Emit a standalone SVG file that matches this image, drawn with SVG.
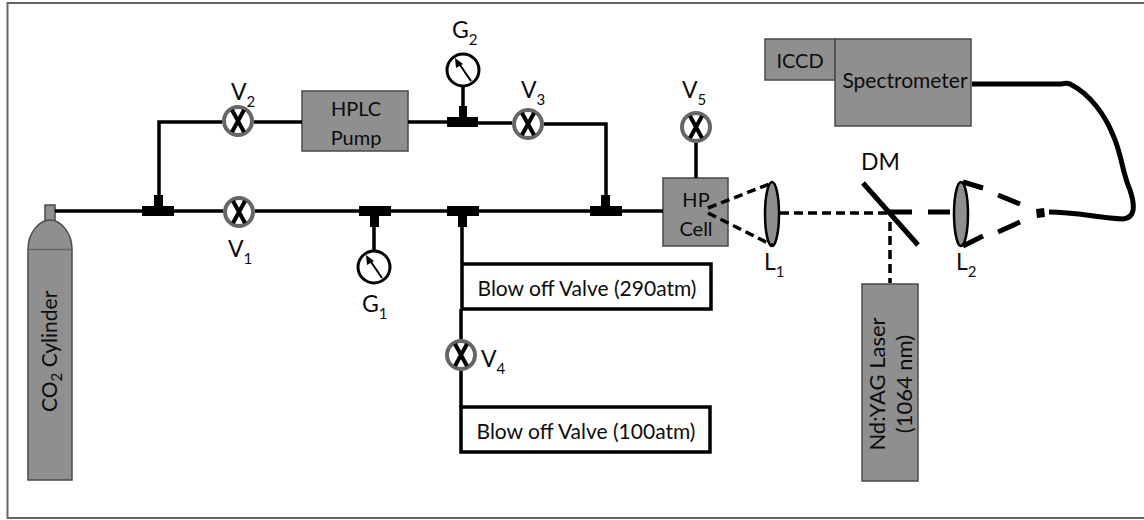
<svg xmlns="http://www.w3.org/2000/svg" width="1144" height="520" viewBox="0 0 1144 520">
<defs>
<style>
text{font-family:Lato,"Open Sans","Liberation Sans",sans-serif;fill:#0c0c0c}
.lbl{font-size:23px}
.sub{font-size:15px}
.txt{font-size:20px}
.wide{font-size:21px}
.rot{font-size:22px}
.box{fill:#8f8f8f;stroke:#4a4a4a;stroke-width:1.5}
.p{fill:none;stroke:#000;stroke-width:3.500}
.w{fill:#fff;stroke:#000;stroke-width:3.500}
.d{fill:none;stroke:#000;stroke-width:3.500;stroke-dasharray:9 5}
.s{fill:none;stroke:#000;stroke-width:5}
.t{fill:#000}
.vc{fill:#fff;stroke:#666;stroke-width:4}
.vx{stroke:#000;stroke-width:4;fill:none}
.g{fill:#fff;stroke:#000;stroke-width:3}
.lens{fill:#8f8f8f;stroke:#000;stroke-width:2.500}
</style>
<g id="valve"><circle class="vc" r="14"/><path class="vx" d="M-6,-11L6,11M6,-11L-6,11"/></g>
<g id="gauge"><circle class="g" r="16"/><path d="M-5,-8L8,11" stroke="#000" stroke-width="2" fill="none"/><path d="M-8,-12L-7,-2L0,-6Z" class="t"/></g>
</defs>
<rect id="frame" x="7.500" y="3" width="1140" height="515" fill="#fff" stroke="#666" stroke-width="2"/>
<g id="n-cylinder">
<rect class="box" x="45" y="205" width="10" height="16"/>
<path class="box" d="M28,480V249C28,232 40,220 50,220C60,220 72,232 72,249V480Z"/>
<path d="M28,249.500H72" stroke="#666" stroke-width="1.500"/>
<text class="wide" transform="translate(57,412) rotate(-90)">CO<tspan class="sub" dy="5">2</tspan><tspan dy="-5"> Cylinder</tspan></text>
</g>
<g id="n-v1"><use href="#valve" x="239" y="212"/><text class="lbl" x="228" y="257">V<tspan class="sub" dy="7">1</tspan></text></g>
<g id="n-v2"><use href="#valve" x="238" y="121"/><text class="lbl" x="231" y="100">V<tspan class="sub" dy="7">2</tspan></text></g>
<g id="n-v3"><use href="#valve" x="528" y="124"/><text class="lbl" x="521" y="98">V<tspan class="sub" dy="7">3</tspan></text></g>
<g id="n-v4"><use href="#valve" x="461" y="355"/><text class="lbl" x="481" y="367">V<tspan class="sub" dy="7">4</tspan></text></g>
<g id="n-v5"><use href="#valve" x="696" y="127"/><text class="lbl" x="682" y="98">V<tspan class="sub" dy="7">5</tspan></text></g>
<g id="n-g1"><use href="#gauge" x="374" y="267"/><text class="lbl" x="362" y="312">G<tspan class="sub" dy="7">1</tspan></text></g>
<g id="n-g2"><use href="#gauge" x="463" y="70"/><text class="lbl" x="452" y="38">G<tspan class="sub" dy="7">2</tspan></text></g>
<g id="n-pump"><rect class="box" x="302" y="91" width="106" height="60"/><text class="txt" text-anchor="middle" x="356" y="116">HPLC</text><text class="txt" text-anchor="middle" x="356" y="145">Pump</text></g>
<g id="n-cell"><rect class="box" x="663" y="178" width="65" height="68"/><text class="txt" text-anchor="middle" x="696" y="207">HP</text><text class="txt" text-anchor="middle" x="696" y="236">Cell</text></g>
<g id="n-l1"><ellipse class="lens" cx="772" cy="214" rx="7" ry="32"/><text class="lbl" x="764" y="270">L<tspan class="sub" dy="7">1</tspan></text></g>
<g id="n-l2"><ellipse class="lens" cx="961" cy="214" rx="7" ry="32"/><text class="lbl" x="956" y="270">L<tspan class="sub" dy="7">2</tspan></text></g>
<g id="n-dm"><text class="lbl" x="861" y="170">DM</text></g>
<g id="n-iccd"><rect class="box" x="765" y="39" width="70" height="41"/><text class="txt" x="800" y="68" text-anchor="middle">ICCD</text></g>
<g id="n-spec"><rect class="box" x="835" y="39" width="136" height="87"/><text class="wide" x="905" y="88" text-anchor="middle">Spectrometer</text></g>
<g id="n-laser"><rect class="box" x="862" y="284" width="56" height="197"/><text class="rot" transform="translate(885,384) rotate(-90)" text-anchor="middle">Nd:YAG Laser</text><text class="rot" transform="translate(912,384) rotate(-90)" text-anchor="middle">(1064 nm)</text></g>
<g id="n-bv290"><rect class="w" x="462" y="264" width="249" height="45"/><text class="wide" x="587" y="296" text-anchor="middle">Blow off Valve (290atm)</text></g>
<g id="n-bv100"><rect class="w" x="461" y="407" width="249" height="45"/><text class="wide" x="586" y="439" text-anchor="middle">Blow off Valve (100atm)</text></g>
<g id="connectors">
<path class="p" d="M55,211H223M255,211H663M159,205V122H222M254,122H302M408,122H447M478,123H512M544,124H606V205"/>
<path class="p" d="M462,222V263M461,309V339M461,371V407M696,143V178"/>
<path class="p" d="M374,222V251M463,86V110"/>
<path class="t" d="M142,206H174V216H142ZM154,195H163V206H154ZM359,206H391V216H359ZM370,216H379V227H370ZM447,206H479V216H447ZM458,216H467V227H458ZM590,206H622V216H590ZM601,195H610V206H601ZM447,117H478V127H447ZM459,106H467V117H459Z"/>
<path class="d" d="M708,208L772,183M708,213L772,245M780,213H888"/>
<path class="d" d="M890,222V283"/>
<path class="s" d="M888,212H912M928,212H950M963,182L983,188M998,195L1020,204M963,246L983,236M998,232L1020,222"/>
<path class="t" d="M1036,209L1044,208L1045,217L1037,218Z"/>
<path d="M972,84H1058C1065,84 1066,82 1070,84C1090,94 1105,115 1113,135C1122,155 1122,172 1130,190C1136,208 1134,218 1123,219C1100,218 1075,212 1049,212" fill="none" stroke="#000" stroke-width="5"/>
<path d="M863,183L918,245" stroke="#000" stroke-width="5" fill="none"/>
</g>
</svg>
